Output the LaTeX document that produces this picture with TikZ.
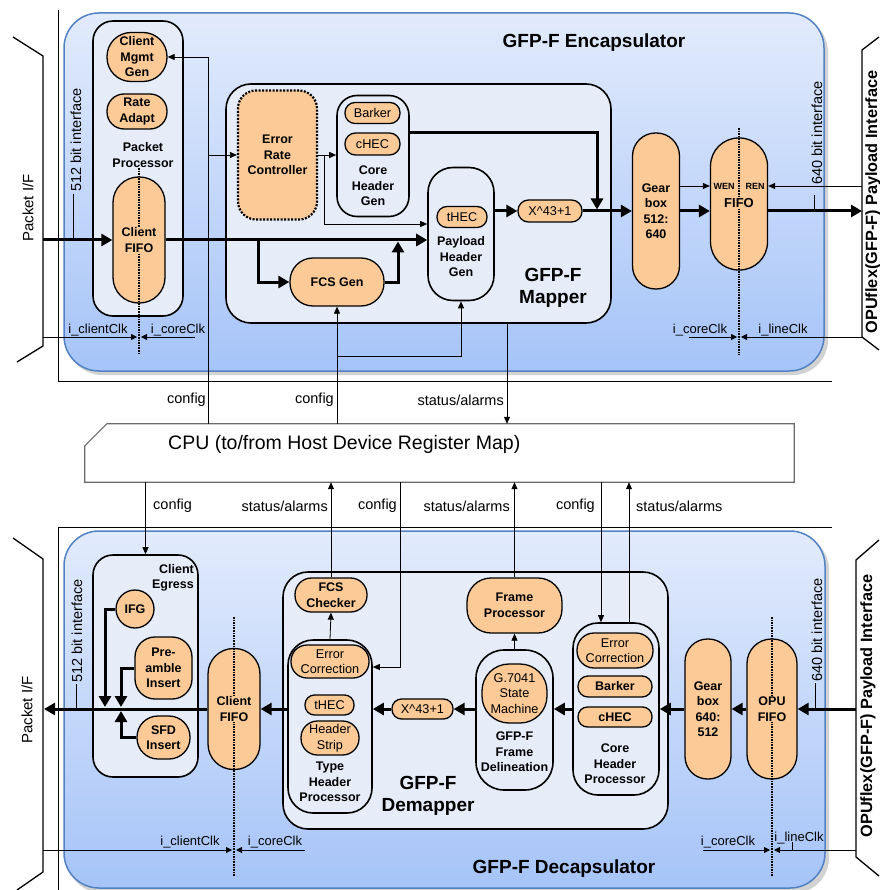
\documentclass[tikz,border=0pt]{standalone}
\usepackage{fontspec}
\setmainfont{Liberation Sans}
\usetikzlibrary{arrows.meta}

\definecolor{boxorange}{HTML}{FBCA97}
\definecolor{grpblue}{HTML}{E6EDF8}
\definecolor{pantop}{HTML}{E2EBFC}
\definecolor{panbot}{HTML}{A6C4F8}
\definecolor{panedge}{HTML}{5282C2}
\definecolor{cpuedge}{HTML}{6A6A6A}

\begin{document}
\begin{tikzpicture}[x=1pt,y=-1pt,
    blk/.style={draw, line width=1.3pt, fill=boxorange, align=center, inner sep=0pt},
    grp/.style={draw, line width=1.6pt, fill=grpblue, inner sep=0pt},
    bf/.style={font=\fontsize{12.5}{15.5}\selectfont\bfseries, align=center},
    rg/.style={font=\fontsize{12.7}{15.5}\selectfont},
    big/.style={font=\fontsize{19}{22}\selectfont\bfseries, align=center},
    lbl/.style={font=\fontsize{14.5}{16}\selectfont, inner sep=0pt},
    clk/.style={font=\fontsize{13}{15}\selectfont, inner sep=0pt},
    thk/.style={line width=3pt, -{Triangle[length=11pt,width=12pt]}},
    thn/.style={line width=0.8pt, -{Triangle[length=7pt,width=6pt]}},
    clkln/.style={line width=0.8pt, -{Triangle[length=6pt,width=6pt]}},
    fifoline/.style={line width=1.6pt, dash pattern=on 1.6pt off 1pt},
    panel/.style={draw=panedge, line width=1.5pt, top color=pantop, bottom color=panbot, rounded corners=35pt},
    brk/.style={line width=1.3pt}]
    \useasboundingbox (0,0) rectangle (879,890);

    % outer frames
    \draw[line width=1pt] (58,10) -- (58,381) -- (832,381);
    \draw[line width=1pt] (832,527) -- (58,527) -- (58,890);

    % panels
    \fill[gray!35, rounded corners=35pt] (67,17) rectangle (828,375);
    \draw[panel] (64,13) rectangle (824,371);
    \fill[gray!35, rounded corners=35pt] (67,535) rectangle (829,893);
    \draw[panel] (64,531) rectangle (825,888);
    \node[big] (enctx) at (594,43) {GFP-F Encapsulator};
    \node[big] (dectx) at (564,869) {GFP-F Decapsulator};

    % interfaces
    \draw[brk] (13,37) -- (43,56) -- (43,346) -- (17,362);
    \draw[brk] (13,538) -- (43,559) -- (43,872) -- (17,890);
    \draw[brk] (879,37) -- (862,50) -- (862,337) -- (879,350);
    \draw[brk] (879,540) -- (856,560) -- (856,857) -- (879,876);
    \node[font=\fontsize{15}{17}\selectfont, rotate=90] (pif1) at (28,208) {Packet I/F};
    \node[font=\fontsize{15}{17}\selectfont, rotate=90] (pif2) at (27,710) {Packet I/F};
    \node[font=\fontsize{16.3}{18}\selectfont\bfseries, rotate=90] (opi1) at (873,202) {OPUflex(GFP-F) Payload Interface};
    \node[font=\fontsize{16.3}{18}\selectfont\bfseries, rotate=90] (opi2) at (868,706) {OPUflex(GFP-F) Payload Interface};
    \coordinate (pin1) at (43,240);
    \coordinate (pin2) at (44,709);
    \coordinate (oin1) at (862,211);
    \coordinate (ren1) at (862,186);
    \coordinate (oin2) at (856,709);

    % packet processor
    \node[grp, rounded corners=20pt, minimum width=90pt, minimum height=295pt] (pp) at (138,168.5) {};
    \node[blk, bf, rounded corners=24pt, minimum width=60pt, minimum height=49pt] (cmg) at (137,57) {Client\\Mgmt\\Gen};
    \node[blk, bf, rounded corners=17pt, minimum width=60pt, minimum height=35pt] (ra) at (137,111.5) {Rate\\Adapt};
    \node[bf, inner sep=0pt] (pptx) at (143,155) {Packet\\Processor};
    \node[blk, rounded corners=25.5pt, minimum width=52pt, minimum height=126pt] (cfifo) at (139,240) {};
    \draw[fifoline] (139,168) -- (139,355);
    \node[bf, fill=boxorange, inner sep=1pt] (cfifotx) at (cfifo) {Client\\FIFO};

    % mapper
    \node[grp, rounded corners=25pt, minimum width=385pt, minimum height=239pt] (map) at (418.5,203.5) {};
    \node[blk, bf, line width=2.2pt, dash pattern=on 2pt off 1.5pt, rounded corners=18pt, minimum width=79pt, minimum height=129pt] (erc) at (277.5,155) {Error\\Rate\\Controller};
    \node[grp, rounded corners=20pt, minimum width=72pt, minimum height=121pt] (chg) at (373,156) {};
    \node[blk, rg, rounded corners=10pt, minimum width=55pt, minimum height=21pt] (bark) at (372.5,113) {Barker};
    \node[blk, rg, rounded corners=10.5pt, minimum width=55pt, minimum height=22pt] (chec) at (372.5,144) {cHEC};
    \node[bf, inner sep=0pt] (chgtx) at (373,186) {Core\\Header\\Gen};
    \node[grp, rounded corners=25pt, minimum width=66pt, minimum height=133pt] (phg) at (461,234) {};
    \node[blk, rg, rounded corners=10pt, minimum width=50pt, minimum height=21pt] (thec) at (462,217) {tHEC};
    \node[bf, inner sep=0pt] (phgtx) at (461,257) {Payload\\Header\\Gen};
    \node[blk, rg, rounded corners=10.5pt, minimum width=64pt, minimum height=22pt] (xtop) at (550,211) {X\textasciicircum{}43+1};
    \node[blk, bf, rounded corners=23pt, minimum width=94pt, minimum height=48pt] (fcs) at (337,282) {FCS Gen};
    \node[big, inner sep=0pt] (maptx) at (553,288) {GFP-F\\Mapper};

    % gearbox and fifo
    \node[blk, bf, rounded corners=23pt, minimum width=47pt, minimum height=156pt] (gb1) at (656,211) {Gear\\box\\512:\\640};
    \node[blk, rounded corners=28pt, minimum width=57pt, minimum height=132pt] (fifo1) at (739,204) {};
    \draw[fifoline] (739,128) -- (739,355);
    \node[font=\fontsize{13}{15}\selectfont\bfseries, fill=boxorange, inner sep=1pt] (fifotx) at (739,203) {FIFO};
    \node[font=\fontsize{9}{10}\selectfont\bfseries, inner sep=0pt] (wen) at (724,186) {WEN};
    \node[font=\fontsize{9}{10}\selectfont\bfseries, inner sep=0pt] (ren) at (755,186) {REN};

    % encapsulator data path
    \draw[thk] (pin1) -- (cfifo.west);
    \draw[thk] (cfifo.east) -- (cfifo.east -| phg.west);
    \draw[thk] (cfifo.east -| 258,0) |- (fcs.west);
    \draw[thk, shorten >=1.5pt] (fcs.east) -| (cfifo.east -| 398,0);
    \draw[thk, shorten >=1.5pt] (chg.east |- 0,133) -| (xtop.east -| 597,0);
    \draw[thk] (phg.east |- xtop.west) -- (xtop.west);
    \draw[thk] (xtop.east) -- (xtop.east -| gb1.west);
    \draw[thk] (gb1.east) -- (gb1.east -| fifo1.west);
    \draw[thn] (gb1.east |- 0,186) -- (fifo1.west |- 0,186);
    \draw[thk] (fifo1.east |- oin1) -- (oin1);
    \draw[thn] (ren1) -- (fifo1.east |- ren1);
    \draw[thn] (erc.east) -- (erc.east -| chg.west);
    \draw[thn] (erc.east -| 324,0) |- (phg.west |- 0,224);

    % widths
    \node[lbl, rotate=90] (w512a) at (76,140) {512 bit interface};
    \draw[line width=0.8pt] (73,194) -- (73,240);
    \node[lbl, rotate=90] (w640a) at (817,133) {640 bit interface};
    \draw[line width=0.8pt] (814,195) -- (814,211);

    % clocks
    \draw[clkln] (43,337) -- (137,337);
    \draw[clkln] (195,337) -- (141,337);
    \draw[clkln] (689,337) -- (737,337);
    \draw[clkln] (862,337) -- (741,337);
    \node[clk] (ck1) at (98,330) {i\_clientClk};
    \node[clk] (ck2) at (178,330) {i\_coreClk};
    \node[clk] (ck3) at (700,330) {i\_coreClk};
    \node[clk] (ck4) at (783,330) {i\_lineClk};

    % cpu
    \node[minimum width=709pt, minimum height=58pt, inner sep=0pt] (cpu) at (439.5,453) {};
    \draw[cpuedge, line width=1.2pt] ([xshift=22pt]cpu.north west) -- (cpu.north east) -- (cpu.south east) -- (cpu.south west) -- ([yshift=-22pt]cpu.north west) -- cycle;
    \node[anchor=west, font=\fontsize{19.5}{21}\selectfont, inner sep=0pt] (cputx) at (168,444) {CPU (to/from Host Device Register Map)};

    \draw[thn] (cpu.north -| 208,0) |- (cmg.east);
    \draw[thn] (erc.west -| 208,0) -- (erc.west);
    \draw[thn] (cpu.north -| fcs.south) -- (fcs.south);
    \draw[thn] (fcs.south |- 0,356) -| (phg.south);
    \draw[thn] (map.south -| 507,0) -- (cpu.north -| 507,0);
    \node[lbl, anchor=east] (cf1) at (206,400) {config};
    \node[lbl, anchor=east] (cf2) at (334,400) {config};
    \node[lbl, anchor=east] (st1) at (504,400) {status/alarms};

    % client egress
    \node[grp, rounded corners=20pt, minimum width=105pt, minimum height=222pt] (ce) at (145.5,666) {};
    \node[bf, align=right, anchor=north east, inner sep=0pt] (cetx) at (194,564) {Client\\Egress};
    \node[blk, bf, circle, minimum size=38pt] (ifg) at (135,609) {IFG};
    \node[blk, bf, rounded corners=20pt, minimum width=57pt, minimum height=62pt] (pre) at (163.5,668) {Pre-\\amble\\Insert};
    \node[blk, bf, rounded corners=21pt, minimum width=53pt, minimum height=43pt] (sfd) at (163.5,737.5) {SFD\\Insert};
    \node[blk, rounded corners=25.5pt, minimum width=52pt, minimum height=121pt] (cfifo2) at (234,709) {};
    \draw[fifoline] (234,617) -- (234,877);
    \node[bf, fill=boxorange, inner sep=1pt] (cfifo2tx) at (cfifo2) {Client\\FIFO};

    % demapper
    \node[grp, rounded corners=25pt, minimum width=385pt, minimum height=257pt] (dem) at (475.5,700.5) {};
    \node[blk, bf, rounded corners=16.5pt, minimum width=72pt, minimum height=34pt] (fcsc) at (331,595) {FCS\\Checker};
    \node[grp, rounded corners=25pt, minimum width=84pt, minimum height=173pt] (thp) at (330,726.5) {};
    \node[blk, rg, rounded corners=16pt, minimum width=78pt, minimum height=33pt] (ec1) at (330,661.5) {Error\\Correction};
    \node[blk, rg, rounded corners=9.5pt, minimum width=49pt, minimum height=20pt] (thec2) at (329.5,705) {tHEC};
    \node[blk, rg, rounded corners=16.5pt, minimum width=58pt, minimum height=34pt] (hs) at (330,738) {Header\\Strip};
    \node[bf, inner sep=0pt] (thptx) at (330,782) {Type\\Header\\Processor};
    \node[blk, rg, rounded corners=9.5pt, minimum width=61pt, minimum height=20pt] (xbot) at (422.5,709) {X\textasciicircum{}43+1};
    \node[grp, rounded corners=28pt, minimum width=77pt, minimum height=140pt] (gfd) at (514.5,720) {};
    \node[blk, rg, rounded corners=27pt, minimum width=65pt, minimum height=59pt] (sm) at (514.5,693.5) {G.7041\\State\\Machine};
    \node[bf, inner sep=0pt] (gfdtx) at (514.5,752) {GFP-F\\Frame\\Delineation};
    \node[blk, bf, rounded corners=24pt, minimum width=95pt, minimum height=55pt] (fp) at (514.5,605.5) {Frame\\Processor};
    \node[grp, rounded corners=25pt, minimum width=86pt, minimum height=172pt] (chp) at (616,709) {};
    \node[blk, rg, rounded corners=17pt, minimum width=76pt, minimum height=35pt] (ec2) at (615,650.5) {Error\\Correction};
    \node[blk, bf, rounded corners=10pt, minimum width=74pt, minimum height=21pt] (bark2) at (615,686.5) {Barker};
    \node[blk, bf, rounded corners=9.5pt, minimum width=74pt, minimum height=20pt] (chec2) at (615,717) {cHEC};
    \node[bf, inner sep=0pt] (chptx) at (615,764) {Core\\Header\\Processor};
    \node[big, inner sep=0pt] (demtx) at (428,796) {GFP-F\\Demapper};

    % gearbox and opu fifo
    \node[blk, bf, rounded corners=22.5pt, minimum width=46pt, minimum height=140pt] (gb2) at (708,709) {Gear\\box\\640:\\512};
    \node[blk, rounded corners=24.5pt, minimum width=50pt, minimum height=140pt] (opu) at (772,709) {};
    \draw[fifoline] (772,617) -- (772,877);
    \node[bf, fill=boxorange, inner sep=1pt] (oputx) at (opu) {OPU\\FIFO};

    % decapsulator data path
    \draw[thk] (oin2) -- (opu.east);
    \draw[thk] (opu.west) -- (gb2.east);
    \draw[thk] (gb2.west) -- (chp.east);
    \draw[thk] (chp.west) -- (chp.west -| gfd.east);
    \draw[thk] (gfd.west |- xbot.east) -- (xbot.east);
    \draw[thk] (xbot.west) -- (xbot.west -| thp.east);
    \draw[thk] (thp.west |- cfifo2.east) -- (cfifo2.east);
    \draw[thk] (cfifo2.west) -- (pin2);
    \draw[thk, shorten >=2pt] (ifg.west) -| (cfifo2.west -| 105,0);
    \draw[thk, shorten >=2pt] (pre.west) -| (cfifo2.west -| 121,0);
    \draw[thk, shorten >=2pt] (sfd.west) -| (cfifo2.west -| 121,0);
    \draw[thn] (thp.north) -- (fcsc.south);
    \draw[thn] (gfd.north) -- (fp.south);

    \node[lbl, rotate=90] (w512b) at (77,631) {512 bit interface};
    \draw[line width=0.8pt] (76,684) -- (76,709);
    \node[lbl, rotate=90] (w640b) at (817,630) {640 bit interface};
    \draw[line width=0.8pt] (815,683) -- (815,709);

    \draw[clkln] (43,850) -- (232,850);
    \draw[clkln] (305,850) -- (236,850);
    \draw[clkln] (703,850) -- (770,850);
    \draw[clkln] (856,850) -- (774,850);
    \draw[line width=0.8pt] (792,842) -- (792,850);
    \node[clk] (ck5) at (190,842) {i\_clientClk};
    \node[clk] (ck6) at (275,842) {i\_coreClk};
    \node[clk] (ck7) at (728,842) {i\_coreClk};
    \node[clk] (ck8) at (799,838) {i\_lineClk};

    % cpu to decapsulator
    \draw[thn] (cpu.south -| ce.north) -- (ce.north);
    \draw[thn] (fcsc.north) -- (cpu.south -| fcsc.north);
    \draw[thn] (cpu.south -| 400,0) |- (thp.east |- 0,667);
    \draw[thn] (fp.north) -- (cpu.south -| fp.north);
    \draw[thn] (cpu.south -| 601,0) -- (chp.north -| 601,0);
    \draw[thn] (chp.north -| 629,0) -- (cpu.south -| 629,0);
    \node[lbl, anchor=west] (cf3) at (153,506) {config};
    \node[lbl, anchor=east] (st2) at (328,506) {status/alarms};
    \node[lbl, anchor=east] (cf4) at (397,506) {config};
    \node[lbl, anchor=east] (st3) at (510,506) {status/alarms};
    \node[lbl, anchor=east] (cf5) at (595,506) {config};
    \node[lbl, anchor=west] (st4) at (636,506) {status/alarms};
\end{tikzpicture}
\end{document}
